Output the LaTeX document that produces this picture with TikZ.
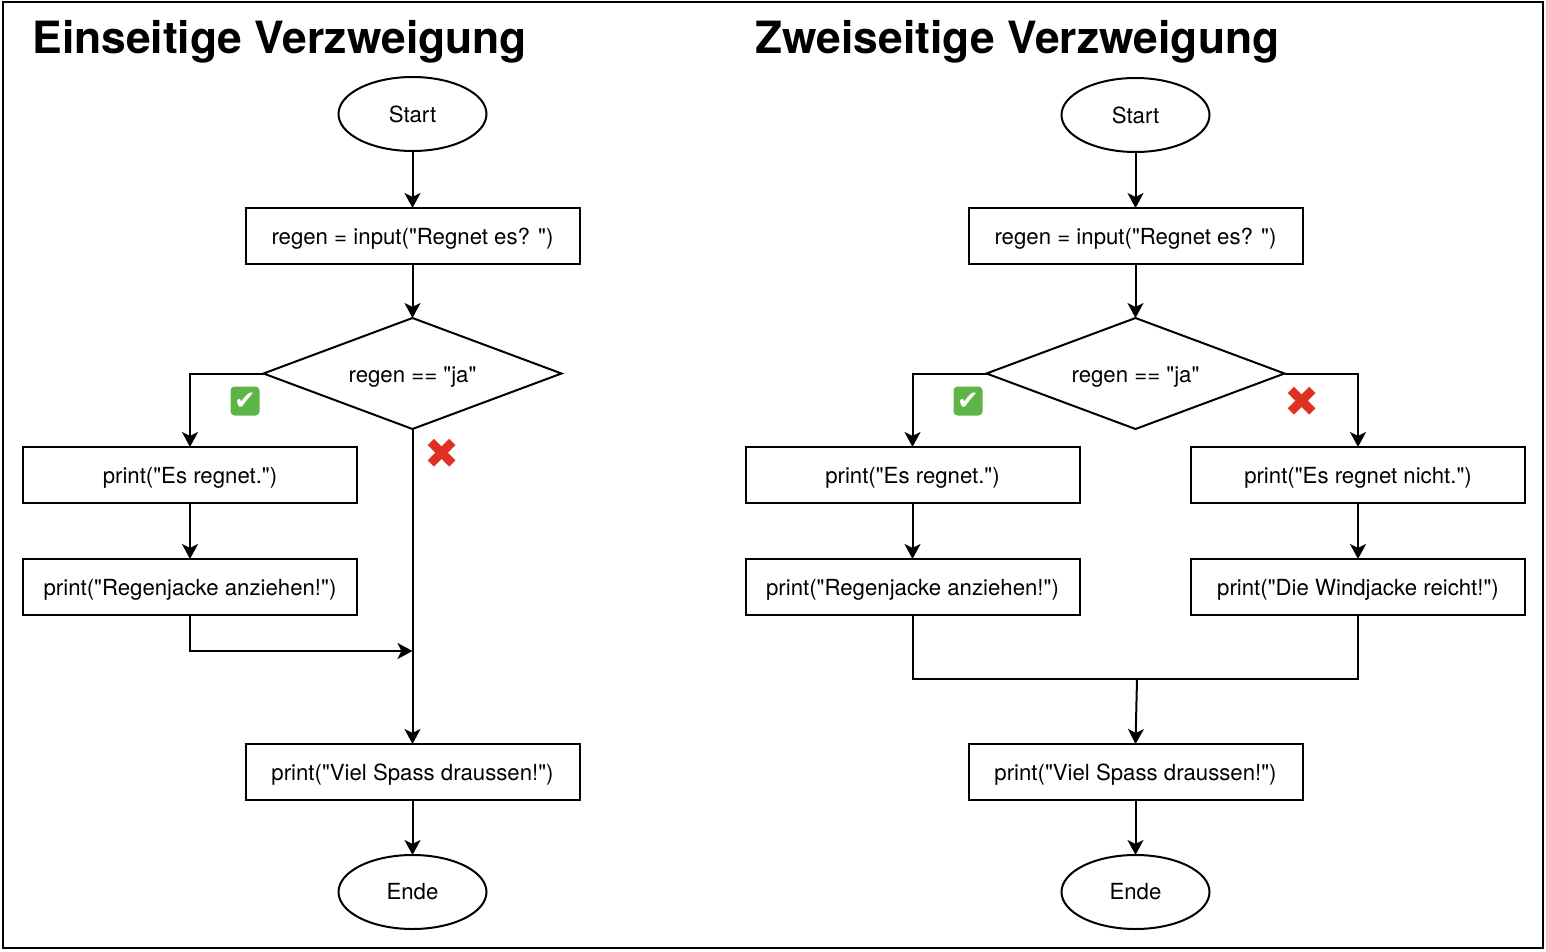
\documentclass[tikz,border=0pt]{standalone}
\usepackage{fontspec}
\newfontfamily\flowfont{TeX Gyre Heros}
\newfontfamily\markfont{DejaVu Sans}
\usetikzlibrary{positioning,arrows.meta,shapes.geometric}
\definecolor{OkGreen}{HTML}{5DB548}
\definecolor{NoRed}{HTML}{DE3123}

\begin{document}
\begin{tikzpicture}[x=1pt, y=1pt,
      titel/.style={anchor=base west, font=\flowfont\fontsize{22.2}{28}\selectfont\bfseries, inner sep=0pt},
      term/.style={draw, ellipse, line width=1pt, minimum width=74pt, minimum height=37pt,
                   font=\flowfont\fontsize{11.1}{14}\selectfont, inner sep=0pt, outer sep=0pt},
      befehl/.style={draw, rectangle, line width=1pt, minimum width=167pt, minimum height=28pt,
                     font=\flowfont\fontsize{11.1}{14}\selectfont, inner sep=0pt, outer sep=0pt,
                     text height=10.5pt, text depth=1.8pt},
      frage/.style={draw, diamond, shape aspect=2.685, line width=1pt, minimum width=149pt, minimum height=55.5pt,
                    font=\flowfont\fontsize{11.1}{14}\selectfont, inner sep=0pt, outer sep=0pt,
                    text height=10.5pt, text depth=1.8pt},
      okmark/.style={fill=OkGreen, rounded corners=2pt, minimum size=14.5pt, inner sep=0pt,
                     text=white, font=\markfont\fontsize{13}{13}\selectfont},
      nomark/.style={text=NoRed, inner sep=0pt, font=\markfont\fontsize{21}{21}\selectfont},
      ar/.style={-{Stealth[length=7.5pt,width=8pt,inset=2pt]}, line width=1pt},
      li/.style={line width=1pt},
    ]
      \useasboundingbox (0,0) rectangle (773,-476);
      \draw[line width=1pt] (1.5,-1) rectangle (771.5,-474);
      \node[titel] (titel1) at (16,-27) {Einseitige Verzweigung};
      \node[titel] (titel2) at (377.5,-27) {Zweiseitige Verzweigung};

      % einseitig
      \node[term] (start1) at (206.25,-57) {Start};
      \node[befehl, below=28.5pt of start1] (input1) {regen = input("Regnet es? ")};
      \node[frage, below=27pt of input1] (cond1) {regen == "ja"};
      \node[befehl, below=9pt of cond1, xshift=-111.25pt] (es1) {print("Es regnet.")};
      \node[befehl, below=28pt of es1] (jacke1) {print("Regenjacke anziehen!")};
      \node[befehl, below=64.5pt of jacke1, xshift=111.25pt] (viel1) {print("Viel Spass draussen!")};
      \node[term, below=27.5pt of viel1] (ende1) {Ende};
      \node[okmark] (ok1) at (122.5,-200.5) {✔};
      \node[nomark] (no1) at (221,-227) {✖};
      \coordinate (merge1) at (206.25,-325.5);
      \draw[ar] (start1)--(input1); \draw[ar] (input1)--(cond1);
      \draw[ar] (cond1.west) -| (es1.north);
      \draw[ar] (es1)--(jacke1);
      \draw[ar] (cond1.south)--(viel1.north);
      \draw[ar] (jacke1.south) |- (merge1);
      \draw[ar] (viel1)--(ende1);

      % zweiseitig
      \node[term] (start2) at (567.75,-57.5) {Start};
      \node[befehl, below=28pt of start2] (input2) {regen = input("Regnet es? ")};
      \node[frage, below=27pt of input2] (cond2) {regen == "ja"};
      \node[befehl, below=9pt of cond2, xshift=-111.5pt] (es2) {print("Es regnet.")};
      \node[befehl, below=28pt of es2] (jacke2) {print("Regenjacke anziehen!")};
      \node[befehl, below=9pt of cond2, xshift=111.25pt] (nicht2) {print("Es regnet nicht.")};
      \node[befehl, below=28pt of nicht2] (wind2) {print("Die Windjacke reicht!")};
      \node[befehl, below=64.5pt of jacke2, xshift=111.5pt] (viel2) {print("Viel Spass draussen!")};
      \node[term, below=27.5pt of viel2] (ende2) {Ende};
      \node[okmark] (ok2) at (484,-200.5) {✔};
      \node[nomark] (no2) at (651,-201) {✖};
      \coordinate (merge2) at (568.5,-339.5);
      \draw[ar] (start2)--(input2); \draw[ar] (input2)--(cond2);
      \draw[ar] (cond2.west) -| (es2.north);
      \draw[ar] (cond2.east) -| (nicht2.north);
      \draw[ar] (es2)--(jacke2); \draw[ar] (nicht2)--(wind2);
      \draw[li] (jacke2.south) |- (merge2) -| (wind2.south);
      \draw[ar] (merge2)--(viel2.north);
      \draw[ar] (viel2)--(ende2);
    \end{tikzpicture}
\end{document}
